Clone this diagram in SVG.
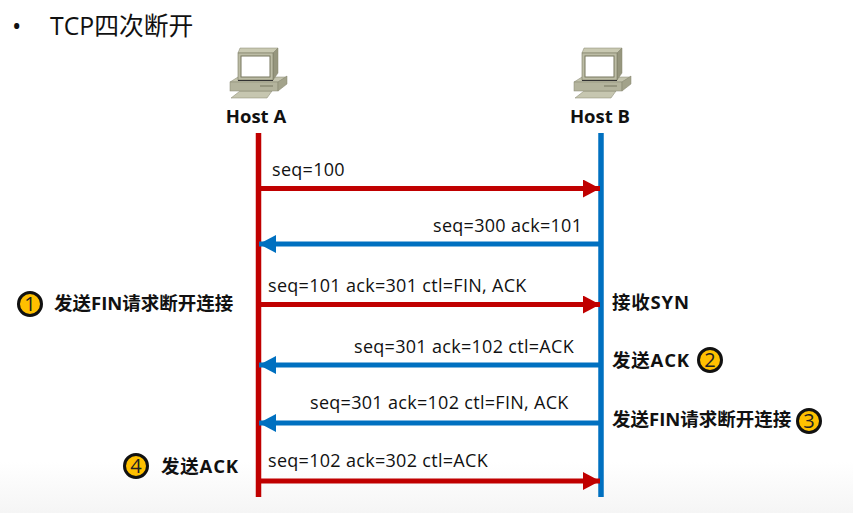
<svg xmlns="http://www.w3.org/2000/svg" width="853" height="513" viewBox="0 0 853 513">
<defs>
<linearGradient id="bg" x1="0" y1="0" x2="0" y2="1"><stop offset="0" stop-color="#fff"/><stop offset="0.9" stop-color="#fff"/><stop offset="1" stop-color="#f5f5f5"/></linearGradient>
<marker id="ar" markerUnits="userSpaceOnUse" markerWidth="18" markerHeight="18" refX="17" refY="9" orient="auto"><path d="M0 0L17 9L0 18Z" fill="#c00000"/></marker>
<marker id="ab" markerUnits="userSpaceOnUse" markerWidth="18" markerHeight="18" refX="17" refY="9" orient="auto"><path d="M0 0L17 9L0 18Z" fill="#0070c0"/></marker>
<g id="pc">
<path d="M-27 26L-18 19H14L9 26Z" fill="#c6c6b0" stroke="#85856f" stroke-width=".5"/>
<path d="M-28 10L-20 5H29L20 10Z" fill="#c4c4ae" stroke="#85856f" stroke-width=".5"/>
<rect x="-28" y="10" width="48" height="9" fill="#b4b49d" stroke="#85856f" stroke-width=".5"/>
<path d="M20 10L29 4V12L20 19Z" fill="#a3a38b" stroke="#85856f" stroke-width=".5"/>
<path d="M2 14H15" stroke="#80806a" stroke-width="1.200"/>
<path d="M-20 -19L-18 -24H20L15 -19Z" fill="#c9c9b2" stroke="#85856f" stroke-width=".5"/>
<path d="M15 -19L20 -24V1L15 8Z" fill="#96967e" stroke="#85856f" stroke-width=".5"/>
<rect x="-20" y="-19" width="35" height="27" fill="#bcbca5" stroke="#77775f" stroke-width=".6"/>
<rect x="-17" y="-16" width="29" height="21" fill="#fff" stroke="#77775f" stroke-width="1"/>
<path d="M-20 8.500H15" stroke="#333" stroke-width="1.200"/>
</g>
</defs>
<style>
text{font-family:"Open Sans","Noto Sans CJK SC",sans-serif;fill:#111}
.l{font-size:18px;letter-spacing:.3px}
.b{font-size:18.5px;font-weight:700}
.s{letter-spacing:.8px}
.t{font-size:24.8px}
.n{font-size:20px;text-anchor:middle;fill:#222}
.c{fill:#ffc000;stroke:#111;stroke-width:3}
.r{stroke:#c00000;stroke-width:5;fill:none}
.u{stroke:#0070c0;stroke-width:5;fill:none}
.v{stroke-width:5.500}
</style>
<rect width="853" height="513" fill="url(#bg)"/>
<g id="title"><text x="12" y="35" class="t">•</text><text x="50" y="35" class="t">TCP四次断开</text></g>
<g id="hostA"><use href="#pc" x="258" y="72"/><text x="256" y="123" class="b" text-anchor="middle">Host A</text></g>
<g id="hostB"><use href="#pc" x="602" y="72"/><text x="600" y="123" class="b" text-anchor="middle">Host B</text></g>
<g id="connectors">
<path class="r v" d="M258.500 133V497"/>
<path class="u v" d="M601 133V497"/>
<path class="r" d="M260 188.500H600" marker-end="url(#ar)"/>
<path class="u" d="M599 244H259" marker-end="url(#ab)"/>
<path class="r" d="M260 304.500H600" marker-end="url(#ar)"/>
<path class="u" d="M599 365H259" marker-end="url(#ab)"/>
<path class="u" d="M599 423H259" marker-end="url(#ab)"/>
<path class="r" d="M260 481H600" marker-end="url(#ar)"/>
</g>
<g id="labels">
<text x="272" y="176" class="l">seq=100</text>
<text x="433" y="232" class="l">seq=300 ack=101</text>
<text x="268" y="292" class="l">seq=101 ack=301 ctl=FIN, ACK</text>
<text x="354" y="353" class="l">seq=301 ack=102 ctl=ACK</text>
<text x="310" y="409" class="l">seq=301 ack=102 ctl=FIN, ACK</text>
<text x="268" y="467" class="l">seq=102 ack=302 ctl=ACK</text>
</g>
<g id="step1"><circle class="c" cx="30" cy="304" r="11.500"/><text x="30" y="311" class="n">1</text><text x="54" y="310" class="b">发送FIN请求断开连接</text></g>
<g id="syn"><text x="612" y="309" class="b s">接收SYN</text></g>
<g id="step2"><text x="612" y="367" class="b s">发送ACK</text><circle class="c" cx="710" cy="360" r="11.500"/><text x="710" y="367" class="n">2</text></g>
<g id="step3"><text x="612" y="426" class="b">发送FIN请求断开连接</text><circle class="c" cx="809" cy="421" r="11.500"/><text x="809" y="428" class="n">3</text></g>
<g id="step4"><circle class="c" cx="136" cy="466" r="11.500"/><text x="136" y="473" class="n">4</text><text x="161" y="473" class="b s">发送ACK</text></g>
</svg>
